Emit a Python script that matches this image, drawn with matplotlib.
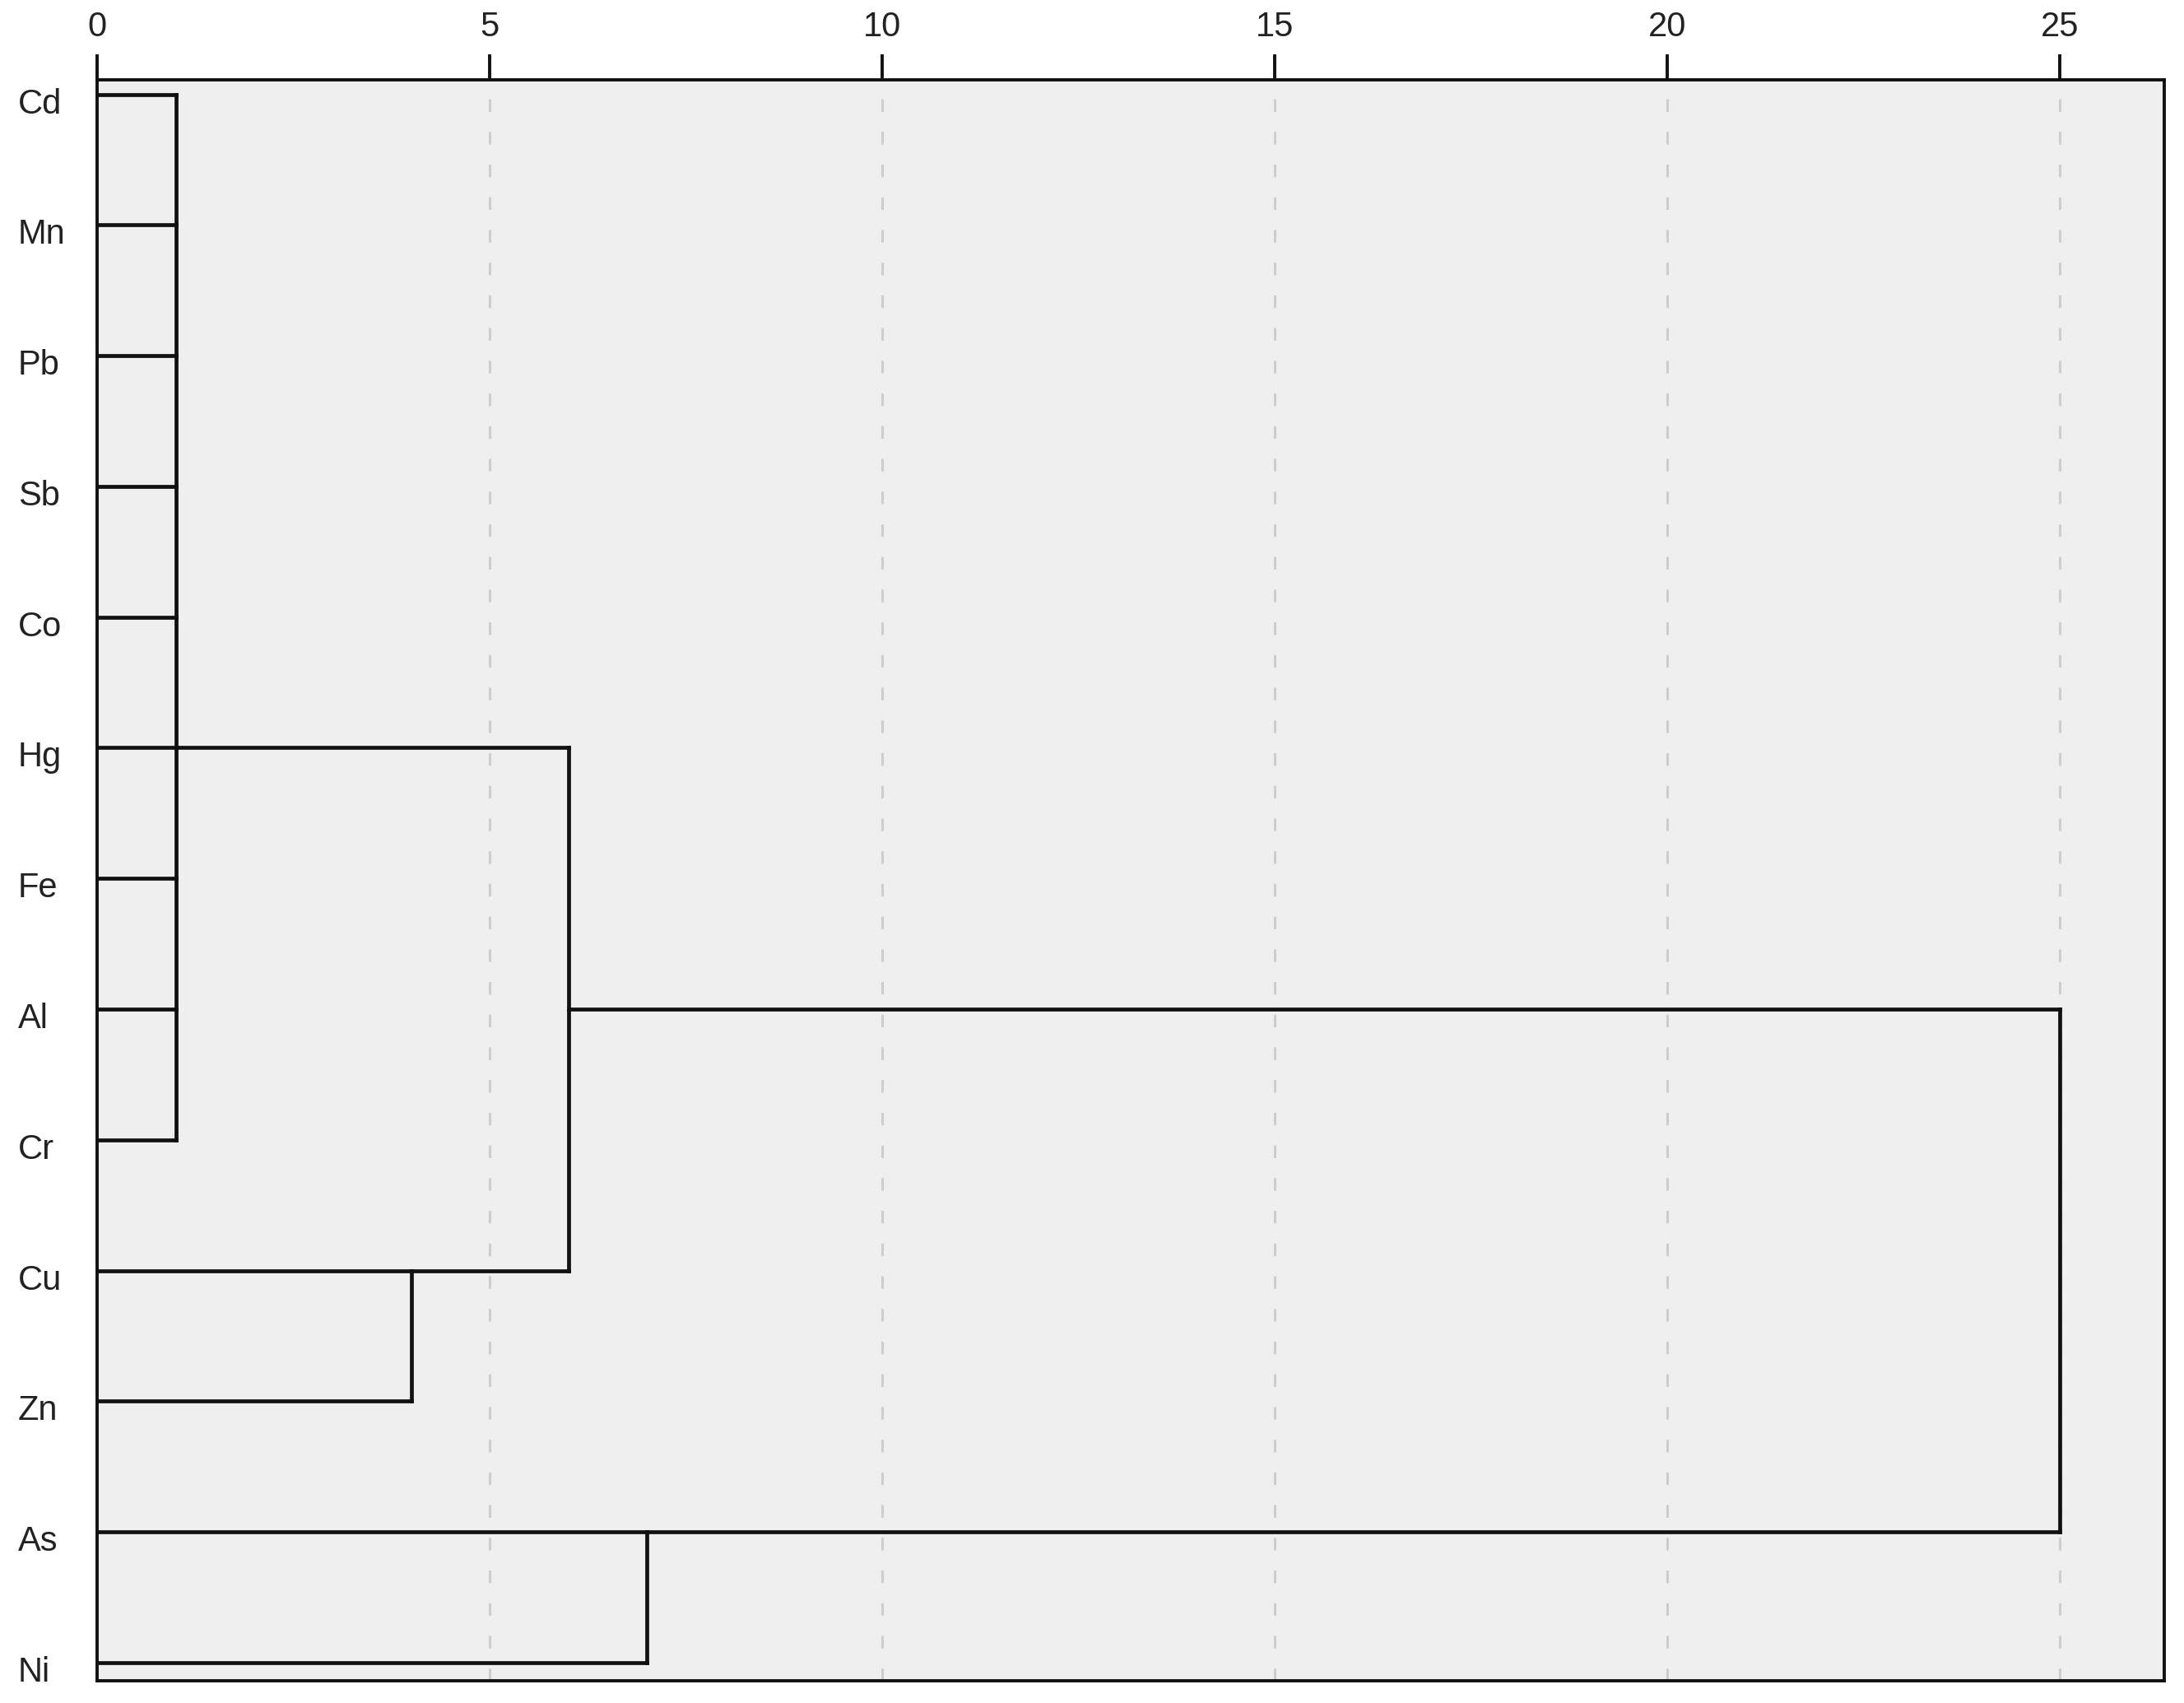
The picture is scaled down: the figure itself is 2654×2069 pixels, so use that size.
import matplotlib.pyplot as plt
from matplotlib.transforms import blended_transform_factory, ScaledTranslation

plt.rcParams['font.family'] = ['Liberation Sans', 'DejaVu Sans']

# leaf order, top to bottom
leaves = ['Cd', 'Mn', 'Pb', 'Sb', 'Co', 'Hg', 'Fe', 'Al', 'Cr', 'Cu', 'Zn', 'As', 'Ni']

# merges: children (leaf names or earlier merge index), rescaled distance,
# and the leaf row the joined cluster's line leaves from
merge_children = [
    ['Cd', 'Mn', 'Pb', 'Sb', 'Co', 'Hg', 'Fe', 'Al', 'Cr'],
    ['Cu', 'Zn'],
    [0, 1],
    ['As', 'Ni'],
    [2, 3],
]
merge_dist = [1, 4, 6, 7, 25]
merge_row = ['Hg', 'Cu', 'Al', 'As', None]

x_ticks = [0, 5, 10, 15, 20, 25]

fig = plt.figure(figsize=(26.54, 20.69), dpi=100)
ax = fig.add_axes([0.0445, 0.0130, 0.9465, 0.9401])
ax.set_facecolor('#efefef')

lc = '#111111'
lw = 3.4


def pos(node):
    if isinstance(node, str):
        return 0, leaves.index(node)
    return merge_dist[node], leaves.index(merge_row[node])


for i, kids in enumerate(merge_children):
    d = merge_dist[i]
    ys = []
    for k in kids:
        x0, y0 = pos(k)
        ax.plot([x0, d], [y0, y0], color=lc, lw=lw, solid_capstyle='projecting', zorder=3)
        ys.append(y0)
    ax.plot([d, d], [min(ys), max(ys)], color=lc, lw=lw, solid_capstyle='projecting', zorder=3)

for xt in x_ticks[1:]:
    ax.axvline(xt, color='#cdcdcd', lw=2.2, ls=(0, (5, 8)), zorder=1)

ax.set_xlim(0, 26.33)
ax.set_ylim(12.14, -0.11)

ax.xaxis.tick_top()
ax.set_xticks(x_ticks)
ax.set_xticklabels([str(v) for v in x_ticks], fontsize=30, color='#222222')
ax.tick_params(axis='x', direction='out', length=22, width=2.8, pad=10, color=lc)
ax.set_yticks([])

for s in ax.spines.values():
    s.set_color(lc)
    s.set_linewidth(2.8)

trans = blended_transform_factory(fig.transFigure, ax.transData) + \
    ScaledTranslation(0, -0.12, fig.dpi_scale_trans)
for i, name in enumerate(leaves):
    ax.text(0.0083, i, name, transform=trans, fontsize=30, color='#222222',
            ha='left', va='center', clip_on=False)

fig.savefig('out.png', dpi=100, facecolor='white')
